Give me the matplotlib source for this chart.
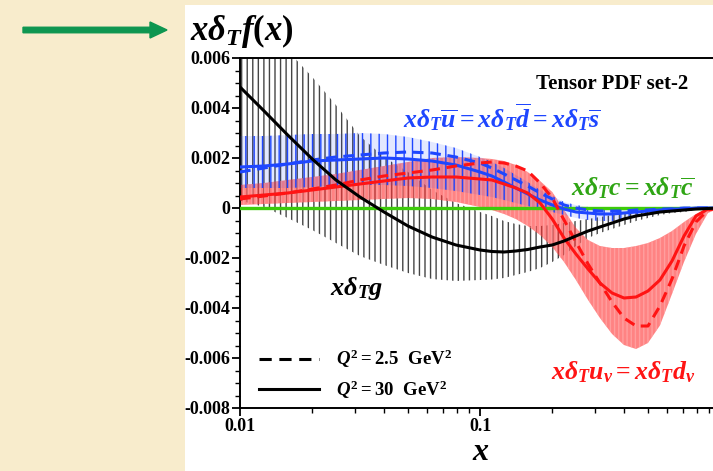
import matplotlib
matplotlib.use("Agg")
import matplotlib.pyplot as plt
from matplotlib.lines import Line2D
from matplotlib.patches import Rectangle, FancyArrow
from matplotlib.ticker import MultipleLocator, FixedLocator, NullFormatter
from matplotlib.transforms import IdentityTransform

plt.rcParams["font.family"] = ["Liberation Serif", "DejaVu Serif"]
plt.rcParams["font.weight"] = "bold"
plt.rcParams["mathtext.fontset"] = "custom"
plt.rcParams["mathtext.rm"] = "Liberation Serif:bold"
plt.rcParams["mathtext.bf"] = "Liberation Serif:bold"
plt.rcParams["mathtext.it"] = "Liberation Serif:italic:bold"
plt.rcParams["hatch.linewidth"] = 1.0

# momentum fraction grid: ten points per decade below 0.1, twenty above
x = [0.01, 0.0126, 0.0158, 0.02, 0.0251, 0.0316, 0.0398, 0.0501, 0.0631, 0.0794,
     0.1, 0.112, 0.126, 0.141, 0.158, 0.178, 0.2, 0.224, 0.251, 0.282, 0.316,
     0.355, 0.398, 0.447, 0.501, 0.562, 0.631, 0.708, 0.794, 0.891, 1.0]

# gluon, Q^2 = 30 GeV^2, with uncertainty band
gluon = [0.00484, 0.00388, 0.00292, 0.00196, 0.00112, 0.00044, -0.00016, -0.00072,
         -0.00116, -0.00148,
         -0.00168, -0.00174, -0.00176, -0.00172, -0.00166, -0.00156, -0.00148, -0.00132,
         -0.00112, -0.00092, -0.00076, -0.0006, -0.00044, -0.00032, -0.00024, -0.00016,
         -0.00012, -0.00008, -0.00004, -0.00002, 0.0]
gluon_hi = [0.0087, 0.0075, 0.0063, 0.00524, 0.00412, 0.00288, 0.00204, 0.00144,
            0.00072, 0.0002,
            -0.00016, -0.00032, -0.00052, -0.00064, -0.00072, -0.00072, -0.00068, -0.0006,
            -0.00052, -0.00044, -0.00036, -0.00028, -0.0002, -0.00014, -0.00008, -0.00006,
            -0.00004, -0.00002, 0.0, 0.0, 0.0]
gluon_lo = [0.0003, 0.00004, -0.0004, -0.00088, -0.0014, -0.00192, -0.00228, -0.0026,
            -0.00284, -0.00292,
            -0.00288, -0.00286, -0.0028, -0.00268, -0.00256, -0.0024, -0.00216, -0.00188,
            -0.00152, -0.0012, -0.001, -0.00084, -0.00068, -0.00052, -0.0004, -0.00028,
            -0.0002, -0.00016, -0.00008, -0.00004, 0.0]

# antiquarks (ubar = dbar = sbar)
sea_30 = [0.00164, 0.00168, 0.00176, 0.00188, 0.00192, 0.00196, 0.002, 0.00196,
          0.00188, 0.00172,
          0.00144, 0.00128, 0.00104, 0.0008, 0.00056, 0.00032, 0.00012, -0.00004,
          -0.00016, -0.0002, -0.00024, -0.00024, -0.0002, -0.00016, -0.00012, -0.00008,
          -0.00004, -0.00004, 0.0, 0.0, 0.0]
sea_25 = [0.00144, 0.0016, 0.00176, 0.00192, 0.00204, 0.00212, 0.0022, 0.00224,
          0.0022, 0.00204,
          0.0018, 0.0016, 0.00136, 0.00112, 0.00088, 0.0006, 0.00036, 0.00012,
          0.0, -0.00008, -0.00012, -0.00012, -0.00012, -0.00008, -0.00008, -0.00004,
          -0.00004, 0.0, 0.0, 0.0, 0.0]
sea_hi = [0.00288, 0.00288, 0.00292, 0.00296, 0.00296, 0.003, 0.00296, 0.00284,
          0.00264, 0.0024,
          0.00204, 0.00184, 0.0016, 0.00132, 0.00104, 0.00072, 0.00048, 0.00024,
          0.00012, 0.00004, 0.0, 0.0, 0.0, 0.0, 0.0, 0.0,
          0.0, 0.0, 0.0, 0.0, 0.0]
sea_lo = [0.0008, 0.0008, 0.0008, 0.00084, 0.00088, 0.00092, 0.00092, 0.00088,
          0.0008, 0.00068,
          0.00052, 0.00044, 0.00032, 0.0002, 0.00008, -0.00004, -0.00016, -0.00028,
          -0.0004, -0.00048, -0.00052, -0.00052, -0.00044, -0.00036, -0.00028, -0.0002,
          -0.00012, -0.00008, -0.00004, 0.0, 0.0]

# valence (uv = dv)
val_30 = [0.00044, 0.00052, 0.0006, 0.00072, 0.00084, 0.00096, 0.00108, 0.0012,
          0.00124, 0.00124,
          0.00116, 0.00112, 0.00096, 0.0008, 0.0006, 0.0002, -0.00044, -0.0012,
          -0.00184, -0.00244, -0.003, -0.0034, -0.0036, -0.00356, -0.00332, -0.00288,
          -0.00212, -0.00112, -0.00032, -0.00004, 0.0]
val_25 = [0.00036, 0.00048, 0.0006, 0.00076, 0.00092, 0.00112, 0.00128, 0.0014,
          0.00152, 0.00168,
          0.0018, 0.00184, 0.0018, 0.00168, 0.00148, 0.001, 0.0004, -0.00048,
          -0.00136, -0.00224, -0.003, -0.00376, -0.0044, -0.00472, -0.00472, -0.00392,
          -0.00284, -0.00152, -0.00056, -0.00008, 0.0]
val_hi = [0.00092, 0.001, 0.00112, 0.00124, 0.00136, 0.00152, 0.00168, 0.00184,
          0.002, 0.00204,
          0.002, 0.00196, 0.00188, 0.00172, 0.00144, 0.00108, 0.00064, -0.00008,
          -0.0008, -0.00128, -0.00152, -0.0016, -0.0016, -0.00152, -0.0014, -0.0012,
          -0.00092, -0.00056, -0.00024, -0.00004, 0.0]
val_lo = [0.00012, 0.00016, 0.0002, 0.00024, 0.00028, 0.00032, 0.00036, 0.0004,
          0.00036, 0.00024,
          0.00004, -0.00008, -0.00024, -0.00044, -0.00072, -0.00108, -0.00156, -0.00216,
          -0.00288, -0.00368, -0.0044, -0.00504, -0.00548, -0.00564, -0.0054, -0.0047,
          -0.00344, -0.00216, -0.00104, -0.0002, 0.0]

# charm (c = cbar) stays at zero
charm = [0.0, 0.0, 0.0, 0.0, 0.0, 0.0, 0.0, 0.0, 0.0, 0.0, 0.0,
         0.0, 0.0, 0.0, 0.0, 0.0, 0.0, 0.0, 0.0, 0.0, 0.0,
         0.0, 0.0, 0.0, 0.0, 0.0, 0.0, 0.0, 0.0, 0.0, 0.0]

yticks = [-0.008, -0.006, -0.004, -0.002, 0.0, 0.002, 0.004, 0.006]
ytick_labels = ["-0.008", "-0.006", "-0.004", "-0.002", "0", "0.002", "0.004", "0.006"]

BLUE = "#1E46FF"
RED = "#FF1414"
GREEN = "#3CCB0A"
DASH = (0, (3.5, 2.2))

W, H = 713, 471
fig = plt.figure(figsize=(W / 100, H / 100), dpi=100)
fig.patch.set_facecolor("#F8ECCC")
fig.add_artist(Rectangle((185 / W, 0), (W - 185) / W, (H - 5) / H,
                         transform=fig.transFigure, facecolor="white",
                         edgecolor="none", zorder=0))
fig.add_artist(FancyArrow(23, H - 30, 127, 0, width=5.5, head_width=16,
                          head_length=17, length_includes_head=False,
                          transform=IdentityTransform(), color="#0E9650", zorder=1))

ax = fig.add_axes([240 / W, 63 / H, 480 / W, 350 / H])
ax.set_facecolor("white")
ax.set_xscale("log")
ax.set_xlim(0.01, 1.0)
ax.set_ylim(-0.008, 0.006)

# bands
ax.fill_between(x, gluon_lo, gluon_hi, facecolor="none", edgecolor="#454545",
                hatch="|||", linewidth=0, zorder=1)
ax.fill_between(x, val_lo, val_hi, facecolor="#FF3838", alpha=0.62,
                edgecolor="#FFB0B0", hatch="||||", linewidth=0, zorder=2)
ax.fill_between(x, sea_lo, sea_hi, facecolor=BLUE, alpha=0.12, linewidth=0, zorder=3)
ax.fill_between(x, sea_lo, sea_hi, facecolor="none", edgecolor=BLUE,
                hatch="||", linewidth=0, zorder=3)

# curves
ax.plot(x, charm, color=GREEN, lw=2.4, zorder=4)
ax.plot(x, sea_25, color=BLUE, lw=2.2, ls=DASH, zorder=5)
ax.plot(x, sea_30, color=BLUE, lw=2.2, zorder=5)
ax.plot(x, val_25, color=RED, lw=2.2, ls=DASH, zorder=6)
ax.plot(x, val_30, color=RED, lw=2.2, zorder=6)
ax.plot(x, gluon, color="black", lw=2.2, zorder=7)

# axes styling
for side in ["left", "bottom", "top", "right"]:
    ax.spines[side].set_linewidth(1.4)
ax.set_yticks(yticks)
ax.set_yticklabels(ytick_labels)
ax.yaxis.set_minor_locator(MultipleLocator(0.0005))
ax.xaxis.set_major_locator(FixedLocator([0.01, 0.1, 1.0]))
ax.set_xticklabels(["0.01", "0.1", ""])
ax.xaxis.set_minor_locator(FixedLocator([a * b for b in (0.01, 0.1) for a in range(2, 10)]))
ax.xaxis.set_minor_formatter(NullFormatter())
ax.tick_params(which="major", direction="out", length=6, width=1.3, pad=1,
               labelsize=13)
ax.tick_params(which="minor", direction="out", length=3.5, width=1.0)
for lab in ax.get_xticklabels() + ax.get_yticklabels():
    lab.set_fontweight("bold")

# curve labels
ax.text(0.7356, 0.00496, "Tensor PDF set-2", ha="right", va="center",
        fontsize=15, fontweight="bold")
ax.text(0.1229, 0.00362, r"$x\delta_T\overline{u}=x\delta_T\overline{d}=x\delta_T\overline{s}$",
        ha="center", va="center", fontsize=18.5, color=BLUE)
ax.text(0.434, 0.0008, r"$x\delta_T c=x\delta_T\overline{c}$",
        ha="center", va="center", fontsize=18.5, color="#2FA514")
ax.text(0.394, -0.00656, r"$x\delta_T u_v=x\delta_T d_v$",
        ha="center", va="center", fontsize=18.5, color=RED)
ax.text(0.0307, -0.00324, r"$x\delta_T g$",
        ha="center", va="center", fontsize=19, color="black")

handles = [Line2D([], [], color="black", lw=2.2, ls=(0, (4, 2.5))),
           Line2D([], [], color="black", lw=2.2)]
ax.legend(handles, [r"$Q^2=2.5\ \ \mathrm{GeV}^2$", r"$Q^2=30\ \ \mathrm{GeV}^2$"],
          loc="lower left", bbox_to_anchor=(0.04, 0.02), frameon=False,
          fontsize=13.5, handlelength=3.2, handletextpad=0.9,
          labelspacing=0.45, borderpad=0, borderaxespad=0)

fig.text(190 / W, 1 - 31 / H, r"$x\delta_T f(x)$", ha="left", va="center", fontsize=25)
fig.text(481 / W, 4 / H, r"$x$", ha="center", va="bottom", fontsize=23)

fig.savefig("out.png", dpi=100, facecolor=fig.get_facecolor())
